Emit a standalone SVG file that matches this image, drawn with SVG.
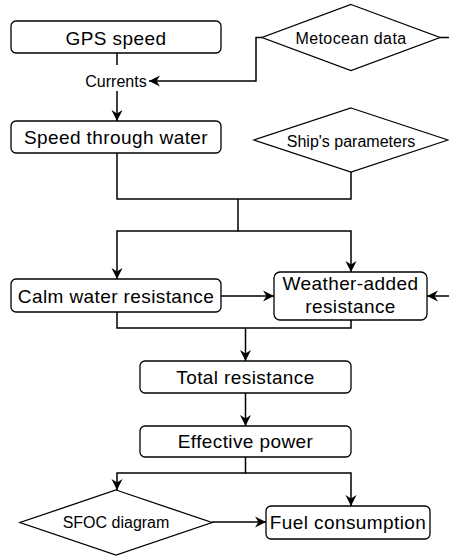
<svg xmlns="http://www.w3.org/2000/svg" width="449" height="557" viewBox="0 0 449 557">
<style>
.box{fill:#fff;stroke:#000;stroke-width:1.3}
.dia{fill:#fff;stroke:#000;stroke-width:1.3}
.t{font-family:"Liberation Sans",Arial,sans-serif;font-size:19px;fill:#000;text-anchor:middle;letter-spacing:0.4px}
.s{font-family:"Liberation Sans",Arial,sans-serif;font-size:16px;fill:#000;text-anchor:middle}
.c{fill:none;stroke:#000;stroke-width:1.5}
</style>
<defs>
<marker id="arr" markerUnits="userSpaceOnUse" markerWidth="14" markerHeight="12" refX="11" refY="6" orient="auto" viewBox="0 0 14 12">
<path d="M0,0.5 L11,6 L0,11.5 L3.5,6 Z" fill="#000"/>
</marker>
</defs>
<rect width="449" height="557" fill="#fff"/>
<g id="connectors">
<path class="c" d="M117,53 V65"/>
<path class="c" d="M117,91 V121" marker-end="url(#arr)"/>
<path class="c" d="M262,37.5 H256 V81 H149" marker-end="url(#arr)"/>
<path class="c" d="M440,37.5 H449"/>
<path class="c" d="M117,153 V199 H351 V172"/>
<path class="c" d="M238,199 V231 H117 V279" marker-end="url(#arr)"/>
<path class="c" d="M238,231 H351 V272" marker-end="url(#arr)"/>
<path class="c" d="M221,296 H274" marker-end="url(#arr)"/>
<path class="c" d="M449,296 H427" marker-end="url(#arr)"/>
<path class="c" d="M117,312 V328 H351 V320"/>
<path class="c" d="M245.5,328 V361" marker-end="url(#arr)"/>
<path class="c" d="M245.5,393 V426" marker-end="url(#arr)"/>
<path class="c" d="M245.5,457 V473 H117 V490" marker-end="url(#arr)"/>
<path class="c" d="M245.5,473 H351 V506" marker-end="url(#arr)"/>
<path class="c" d="M212,522 H266" marker-end="url(#arr)"/>
</g>
<g id="currents"><text class="s" x="116" y="86.5">Currents</text></g>
<g id="gps"><rect class="box" x="11" y="21" width="210" height="32" rx="5"/><text class="t" x="116" y="44.5">GPS speed</text></g>
<g id="metocean"><polygon class="dia" points="351,4.5 440,37.5 351,70.5 262,37.5"/><text class="s" x="351" y="43.5" style="letter-spacing:0.4px">Metocean data</text></g>
<g id="stw"><rect class="box" x="11" y="121" width="210" height="32" rx="5"/><text class="t" x="116" y="143.5">Speed through water</text></g>
<g id="ship"><polygon class="dia" points="351,108 448,140 351,172 254,140"/><text class="s" x="351" y="146.5">Ship's parameters</text></g>
<g id="calm"><rect class="box" x="11" y="279" width="210" height="33" rx="5"/><text class="t" x="116" y="302.5">Calm water resistance</text></g>
<g id="weather"><rect class="box" x="274" y="272" width="153" height="48" rx="6"/><text class="t" x="350.5" y="290">Weather-added</text><text class="t" x="350.5" y="313">resistance</text></g>
<g id="total"><rect class="box" x="140" y="361" width="211" height="32" rx="5"/><text class="t" x="245.5" y="383.5">Total resistance</text></g>
<g id="power"><rect class="box" x="140" y="426" width="211" height="31" rx="5"/><text class="t" x="245.5" y="448">Effective power</text></g>
<g id="sfoc"><polygon class="dia" points="116,490 212,522.5 116,555 20,522.5"/><text class="s" x="116" y="528">SFOC diagram</text></g>
<g id="fuel"><rect class="box" x="266" y="506" width="164" height="33" rx="5"/><text class="t" x="348" y="529">Fuel consumption</text></g>
</svg>
